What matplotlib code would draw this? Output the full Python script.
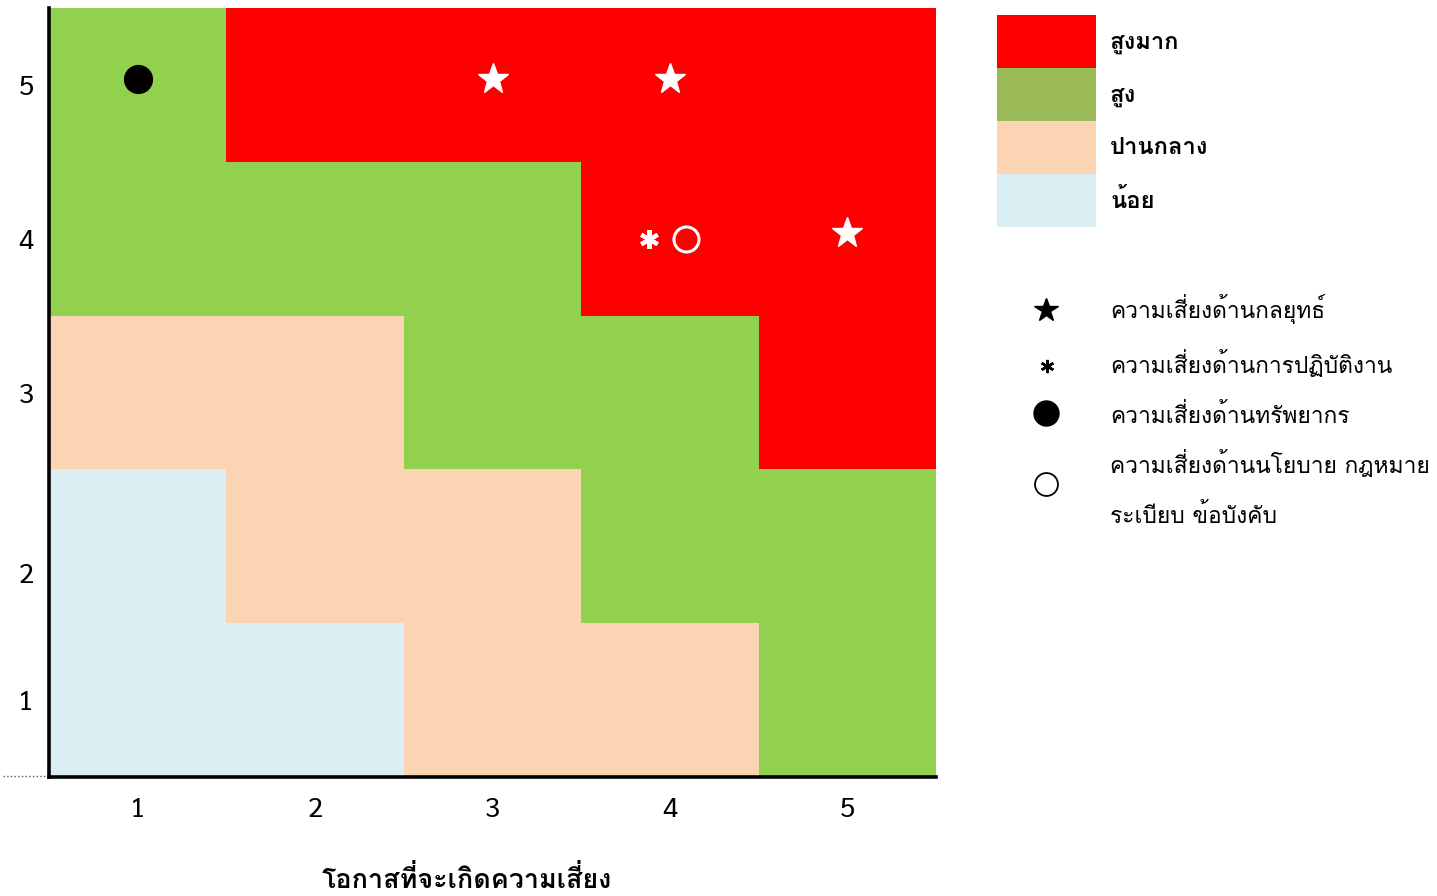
import matplotlib
matplotlib.use("Agg")
import matplotlib.pyplot as plt
import numpy as np
from matplotlib.colors import ListedColormap
from matplotlib.patches import Rectangle
from matplotlib.lines import Line2D

THAI = ['Loma', 'Sarabun', 'DejaVu Sans']
plt.rcParams['font.family'] = THAI

# ---- data ----
x_labels = ['1', '2', '3', '4', '5']
y_labels = ['1', '2', '3', '4', '5']
# risk level per cell (rows = impact 1..5 bottom->top, cols = likelihood 1..5)
# 0 = น้อย, 1 = ปานกลาง, 2 = สูง, 3 = สูงมาก
levels = [
    [0, 0, 1, 1, 2],   # impact 1
    [0, 1, 1, 2, 2],   # impact 2
    [1, 1, 2, 2, 3],   # impact 3
    [2, 2, 2, 3, 3],   # impact 4
    [2, 3, 3, 3, 3],   # impact 5
]
level_names = ['น้อย', 'ปานกลาง', 'สูง', 'สูงมาก']
cell_colors = ['#DAEEF3', '#FBD4B4', '#92D050', '#FF0000']
legend_colors = ['#DAEEF3', '#FBD4B4', '#9BBB59', '#FF0000']

strategic_x = [3, 4, 5]
strategic_y = [5, 5, 4]
operational_x = [4]
operational_y = [4]
resource_x = [1]
resource_y = [5]
policy_x = [4]
policy_y = [4]

series_names = ['ความเสี่ยงด้านกลยุทธ์', 'ความเสี่ยงด้านการปฏิบัติงาน',
                'ความเสี่ยงด้านทรัพยากร', 'ความเสี่ยงด้านนโยบาย กฎหมาย\nระเบียบ ข้อบังคับ']
xlabel = 'โอกาสที่จะเกิดความเสี่ยง'

# ---- figure ----
W, H = 1437, 896
fig = plt.figure(figsize=(W / 100, H / 100), dpi=100)
renderer = fig.canvas.get_renderer()


def fit_width(texts, ref, target_px):
    bb = ref.get_window_extent(renderer)
    scale = target_px / bb.width
    for t in texts:
        t.set_fontsize(t.get_fontsize() * scale)


ax = fig.add_axes([49 / W, 1 - 777 / H, (936 - 49) / W, (777 - 8) / H])

edges = np.arange(0.5, 6.0, 1.0)
ax.pcolormesh(edges, edges, np.array(levels), cmap=ListedColormap(cell_colors),
              vmin=-0.5, vmax=3.5, shading='flat')
ax.set_xlim(0.5, 5.5)
ax.set_ylim(0.5, 5.5)

# markers in cells
ax.plot(np.array(strategic_x), np.array(strategic_y) + 0.04, linestyle='none',
        marker='*', ms=23, color='white', mec='white')
ax.plot(np.array(operational_x) - 0.12, operational_y, linestyle='none',
        marker=(6, 2, 0), ms=13.5, mew=3.0, color='white', mec='white')
ax.plot(np.array(policy_x) + 0.09, policy_y, linestyle='none',
        marker='o', ms=18, mfc='none', mec='white', mew=2.2)
ax.plot(np.array(resource_x), np.array(resource_y) + 0.04, linestyle='none',
        marker='o', ms=20, color='black')

# axes styling
for s in ['top', 'right']:
    ax.spines[s].set_visible(False)
for s in ['left', 'bottom']:
    ax.spines[s].set_linewidth(2.6)
    ax.spines[s].set_color('black')
ax.set_xticks(range(1, 6))
ax.set_xticklabels(x_labels, family=['Sarabun', 'DejaVu Sans'], fontsize=20)
ax.set_yticks([1, 1.83, 3, 4, 5])
ax.set_yticklabels(y_labels, family=['Sarabun', 'DejaVu Sans'], fontsize=20)
ax.tick_params(length=0)
ax.tick_params(axis='x', pad=14)
ax.tick_params(axis='y', pad=11)

xl = ax.set_xlabel(xlabel, fontsize=18, fontweight='bold')
xl.set_va('baseline')
ax.xaxis.set_label_coords((467 - 49) / 887, -(888 - 777) / 769)
fit_width([xl], xl, 290)

# ---- overlay (legend area) in pixel coords ----
ov = fig.add_axes([0, 0, 1, 1], zorder=-1)
ov.set_xlim(0, W)
ov.set_ylim(H, 0)
ov.axis('off')

# dotted artifact at bottom-left
ov.add_line(Line2D([3, 46], [776, 776], color='#555555', lw=1, ls=':'))

tops = [15, 68, 121, 174]
order = [3, 2, 1, 0]
lvl_texts = {}
for top, idx in zip(tops, order):
    ov.add_patch(Rectangle((997, top), 99, 53, color=legend_colors[idx], lw=0))
    lvl_texts[idx] = ov.text(1110, top + 33.5, level_names[idx], fontsize=16,
                             fontweight='bold', va='baseline', ha='left')
fit_width(list(lvl_texts.values()), lvl_texts[1], 99)

mk_y = [310, 366, 413, 484]
ov.plot([1046], [mk_y[0]], marker='*', ms=17.5, color='black', linestyle='none')
ov.plot([1047], [mk_y[1]], marker=(6, 2, 0), ms=9.5, mew=1.8, color='black', linestyle='none')
ov.plot([1046], [mk_y[2]], marker='o', ms=18, color='black', linestyle='none')
ov.plot([1046], [mk_y[3]], marker='o', ms=16.5, mfc='none', mec='black', mew=1.3, linestyle='none')

baselines = [318, 373, 423, 473]
ser_texts = []
for yb, name in zip(baselines, series_names):
    for k, line in enumerate(name.split('\n')):
        ser_texts.append(ov.text(1110, yb + 50 * k, line, fontsize=16,
                                 va='baseline', ha='left'))
fit_width(ser_texts, ser_texts[0], 215)

fig.savefig('out.png', dpi=100)
